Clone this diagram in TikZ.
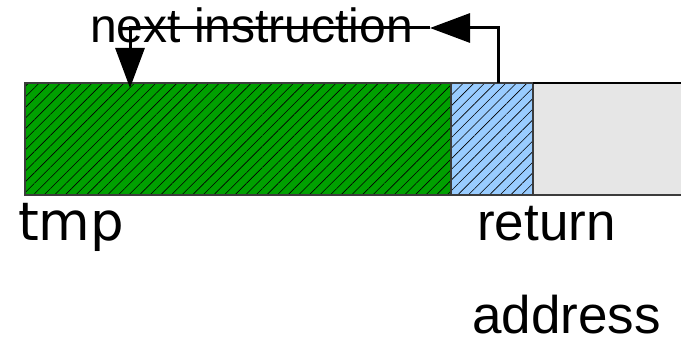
\documentclass[tikz,border=0pt]{standalone}
\usepackage{fontspec}
\setmainfont{Liberation Sans}
\newfontfamily\dejavu{DejaVu Sans}
\usetikzlibrary{arrows.meta, patterns.meta}
\definecolor{slotgreen}{RGB}{0,160,0}
\definecolor{slotblue}{RGB}{153,204,255}
\definecolor{freegray}{RGB}{230,230,230}
\definecolor{edge}{RGB}{60,60,60}

\begin{document}
\begin{tikzpicture}[x=1pt, y=-1pt,
  slot/.style={draw=edge, line width=1.2pt, anchor=north west, minimum height=112pt, inner sep=0pt, outer sep=0pt},
  hatched/.style={pattern={Lines[angle=45, distance=7.5pt, line width=0.6pt]}, pattern color=black},
  flow/.style={line width=3pt, -{Triangle[length=40pt, width=29pt]}},
  memtext/.style={anchor=base west, inner sep=0pt, font=\fontsize{53}{63}\selectfont}]
  \useasboundingbox (0,0) rectangle (681,345);
  % stack slots
  \node[slot, hatched, preaction={fill=slotgreen}, minimum width=426pt] (tmpbox) at (25,83) {};
  \node[slot, hatched, preaction={fill=slotblue}, minimum width=82pt] (retbox) at (451,83) {};
  \node[slot, fill=freegray, minimum width=160pt] (freebox) at (533,83) {};
  \draw[black, line width=1.2pt] (freebox.north west) -- (freebox.north east);
  % labels
  \node[memtext, font=\dejavu\fontsize{53}{63}\selectfont] (tmp) at (18,240) {tmp};
  \node[memtext] (ret) at (477,240) {return};
  \node[memtext] (addr) at (472,333) {address};
  \node[memtext, font=\fontsize{48}{58}\selectfont] (next) at (90,43) {next instruction};
  % jump back
  \coordinate (bend) at (498,28);
  \coordinate (midtip) at (430,28);
  \coordinate (drop) at (130,28);
  \draw[flow] (retbox.north -| bend) -- (bend) -- (midtip);
  \draw[flow] (midtip) -- (drop) -- ([yshift=-5pt]tmpbox.north -| drop);
\end{tikzpicture}
\end{document}
